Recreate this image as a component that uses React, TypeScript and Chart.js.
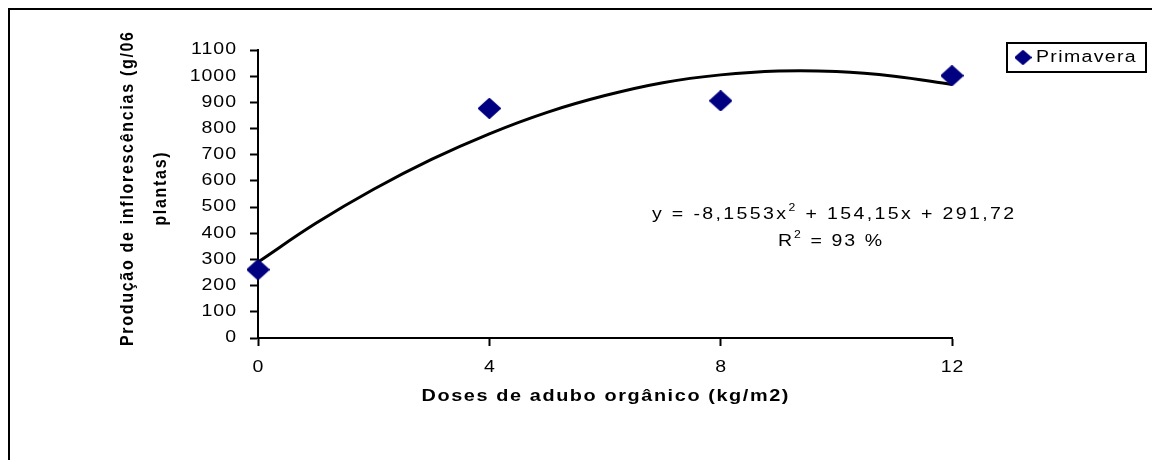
import React, { useEffect, useRef } from "react";
import { Chart, registerables } from "chart.js";

Chart.register(...registerables);

// ---- data ----
const seriesLabel = "Primavera";
const doses = [0, 4, 8, 12];
const producao = [261, 877, 906, 1002];
// trend curve
const trendX = [0, 1, 2, 3, 4, 5, 6, 7, 8, 9, 10, 11, 12];
const trendY = [290, 438, 568, 682, 780, 862, 926, 975, 1005, 1020, 1018, 1000, 968];
const xTickValues = [0, 4, 8, 12];
const yMin = 0;
const yMax = 1100;
const yStep = 100;
const xTitle = "Doses de adubo orgânico (kg/m2)";
const yTitleLines = ["Produção de inflorescências (g/06", "plantas)"];
const eqLine1 = [
  { t: "y = -8,1553x", sup: false },
  { t: "2", sup: true },
  { t: " + 154,15x + 291,72", sup: false },
];
const eqLine2 = [
  { t: "R", sup: false },
  { t: "2", sup: true },
  { t: " = 93 %", sup: false },
];

const FONT = "'Liberation Sans', Arial, sans-serif";
const NAVY = "#000080";
const SX = 1.22; // horizontal stretch of the original rendering

function makeDiamond(w: number, h: number, color: string) {
  const c = document.createElement("canvas");
  c.width = w;
  c.height = h;
  const g = c.getContext("2d")!;
  g.fillStyle = color;
  g.strokeStyle = color;
  g.lineJoin = "round";
  g.lineWidth = 2;
  g.beginPath();
  g.moveTo(w / 2, 1);
  g.lineTo(w - 1, h / 2);
  g.lineTo(w / 2, h - 1);
  g.lineTo(1, h / 2);
  g.closePath();
  g.fill();
  g.stroke();
  return c;
}

type Piece = { t: string; sup: boolean };

function drawPieces(
  ctx: CanvasRenderingContext2D,
  pieces: Piece[],
  x: number,
  y: number,
  size: number,
  spacing: number,
  align: "left" | "center" | "right",
  bold = false,
  sx = SX
) {
  ctx.save();
  ctx.fillStyle = "#000";
  ctx.textBaseline = "middle";
  ctx.textAlign = "left";
  (ctx as any).letterSpacing = spacing + "px";
  const fontFor = (p: Piece) =>
    `${bold ? "bold " : ""}${p.sup ? Math.round(size * 0.65) : size}px ${FONT}`;
  const widths = pieces.map((p) => {
    ctx.font = fontFor(p);
    return ctx.measureText(p.t).width;
  });
  const total = widths.reduce((a, b) => a + b, 0) - spacing;
  ctx.translate(x, y);
  ctx.scale(sx, 1);
  let cx = align === "left" ? 0 : align === "center" ? -total / 2 : -total;
  pieces.forEach((p, i) => {
    ctx.font = fontFor(p);
    ctx.fillText(p.t, cx, p.sup ? -size * 0.42 : 0);
    cx += widths[i];
  });
  ctx.restore();
}

export default function App() {
  const ref = useRef<HTMLCanvasElement | null>(null);

  useEffect(() => {
    if (!ref.current) return;
    const diamond = makeDiamond(23, 21, NAVY);
    const legendDiamond = makeDiamond(17, 15, NAVY);

    const textPlugin = {
      id: "customText",
      afterDraw(chart: any) {
        const ctx: CanvasRenderingContext2D = chart.ctx;
        const ca = chart.chartArea;
        const xs = chart.scales.x;
        const ys = chart.scales.y;

        // tick labels, from the library's scales
        ys.ticks.forEach((t: any) => {
          const py = ys.getPixelForValue(t.value);
          drawPieces(ctx, [{ t: String(t.value), sup: false }], ca.left - 22, py, 16, 0.8, "right");
        });
        xs.ticks.forEach((t: any) => {
          const px = xs.getPixelForValue(t.value);
          drawPieces(ctx, [{ t: String(t.value), sup: false }], px, ca.bottom + 30, 16, 0.8, "center");
        });

        // x-axis title
        drawPieces(ctx, [{ t: xTitle, sup: false }], (ca.left + ca.right) / 2, 387, 16, 1.3, "center", true, 1.24);

        // y-axis title (two lines, rotated; stretch applies across the glyphs)
        ctx.save();
        (ctx as any).letterSpacing = "1.7px";
        ctx.font = `bold 16px ${FONT}`;
        ctx.fillStyle = "#000";
        ctx.textAlign = "left";
        ctx.textBaseline = "middle";
        const linesX = [118, 151];
        yTitleLines.forEach((line, i) => {
          const w = ctx.measureText(line).width - 1.7;
          ctx.save();
          ctx.translate(linesX[i], 179);
          ctx.rotate(-Math.PI / 2);
          ctx.scale(1, 1.18);
          ctx.fillText(line, -w / 2, 0);
          ctx.restore();
        });
        ctx.restore();

        // equation
        drawPieces(ctx, eqLine1, 823, 205, 16, 1.95, "center");
        drawPieces(ctx, eqLine2, 820, 232, 16, 1.7, "center");

        // legend
        ctx.save();
        ctx.strokeStyle = "#000";
        ctx.lineWidth = 2;
        ctx.strokeRect(997, 33, 139, 29);
        ctx.drawImage(legendDiamond, 1013 - legendDiamond.width / 2, 47.5 - legendDiamond.height / 2);
        ctx.restore();
        drawPieces(ctx, [{ t: chart.data.datasets[1].label, sup: false }], 1026, 48, 16, 1.1, "left");
      },
    };

    const chart = new Chart(ref.current, {
      type: "scatter",
      data: {
        datasets: [
          {
            type: "line",
            label: "Tendência",
            data: trendX.map((x, i) => ({ x, y: trendY[i] })),
            borderColor: "#000",
            borderWidth: 3,
            pointRadius: 0,
            tension: 0.4,
            fill: false,
            clip: false as any,
            order: 2,
          },
          {
            type: "scatter",
            label: seriesLabel,
            data: doses.map((x, i) => ({ x, y: producao[i] })),
            pointStyle: diamond as any,
            pointRadius: 11,
            backgroundColor: NAVY,
            borderColor: NAVY,
            clip: false as any,
            order: 1,
          },
        ],
      },
      options: {
        responsive: false,
        animation: false,
        layout: { padding: { top: 40, right: 200, left: 0, bottom: 0 } },
        plugins: {
          legend: { display: false },
          tooltip: { enabled: false },
        },
        scales: {
          x: {
            type: "linear",
            min: 0,
            max: 12,
            afterFit(scale: any) {
              scale.height = 122;
            },
            afterBuildTicks(scale: any) {
              scale.ticks = xTickValues.map((v) => ({ value: v }));
            },
            ticks: { display: false },
            grid: {
              drawOnChartArea: false,
              drawTicks: true,
              tickLength: 8,
              tickColor: "#000",
              tickWidth: 2,
            },
            border: { display: true, color: "#000", width: 2 },
            title: { display: false },
          },
          y: {
            type: "linear",
            min: yMin,
            max: yMax,
            afterFit(scale: any) {
              scale.width = 248;
            },
            ticks: { stepSize: yStep, display: false },
            grid: {
              drawOnChartArea: false,
              drawTicks: true,
              tickLength: 8,
              tickColor: "#000",
              tickWidth: 2,
            },
            border: { display: true, color: "#000", width: 2 },
            title: { display: false },
          },
        },
      },
      plugins: [textPlugin],
    });
    return () => chart.destroy();
  }, []);

  return (
    <div
      style={{
        position: "fixed",
        left: 8,
        top: 8,
        borderTop: "2px solid #000",
        borderLeft: "2px solid #000",
        background: "#fff",
      }}
    >
      <canvas ref={ref} width={1142} height={450} style={{ display: "block" }} />
    </div>
  );
}
